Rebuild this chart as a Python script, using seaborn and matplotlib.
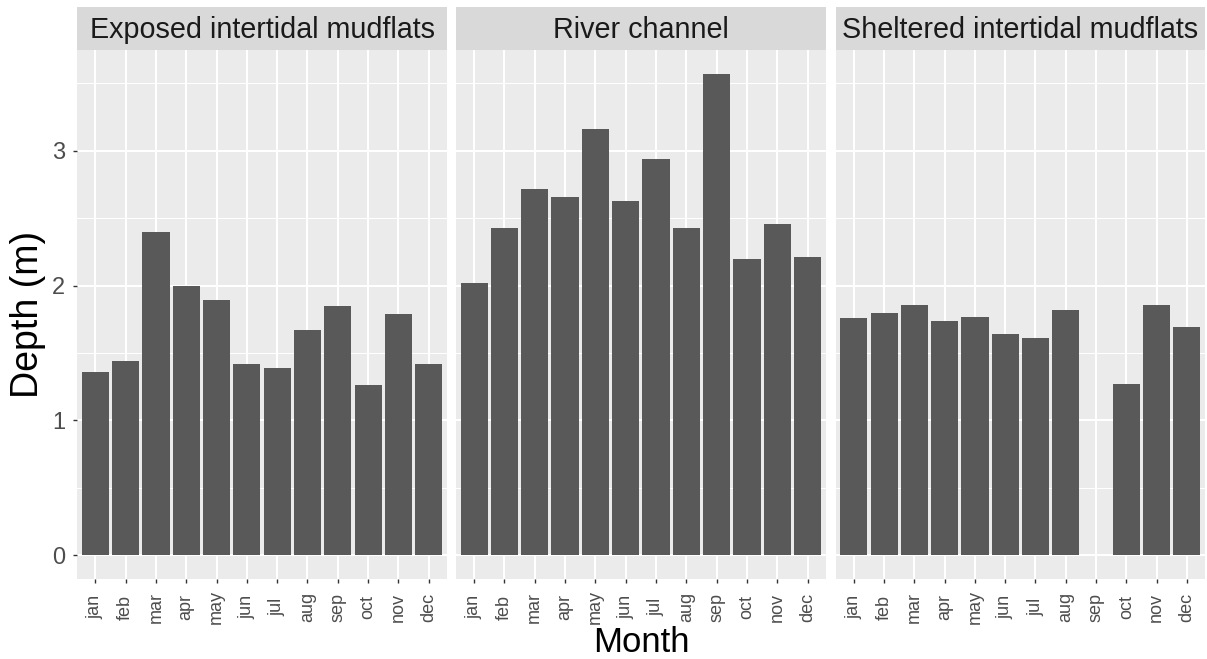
import numpy as np
import pandas as pd
import matplotlib
matplotlib.use("Agg")
import matplotlib.pyplot as plt
import seaborn as sns
from matplotlib.ticker import MultipleLocator

months = ["jan", "feb", "mar", "apr", "may", "jun", "jul", "aug", "sep", "oct", "nov", "dec"]
sites = ["Exposed intertidal mudflats", "River channel", "Sheltered intertidal mudflats"]
exposed = [1.36, 1.44, 2.40, 2.00, 1.89, 1.42, 1.39, 1.67, 1.85, 1.26, 1.79, 1.42]
river = [2.02, 2.43, 2.72, 2.66, 3.16, 2.63, 2.94, 2.43, 3.57, 2.20, 2.46, 2.21]
sheltered = [1.76, 1.80, 1.86, 1.74, 1.77, 1.64, 1.61, 1.82, np.nan, 1.27, 1.86, 1.69]

df = pd.DataFrame({
    "Month": months * 3,
    "Depth": exposed + river + sheltered,
    "Site": np.repeat(sites, len(months)),
})

plt.rcParams["font.family"] = ["Liberation Sans", "DejaVu Sans"]

W, H = 1207, 659
fig = plt.figure(figsize=(W / 100, H / 100), dpi=100)

panel_px = [(77, 447), (456, 825.7), (835.7, 1205)]
top_px, bottom_px = 50, 579.3
strip_top = 7.3

for i, (site, (x0, x1)) in enumerate(zip(sites, panel_px)):
    ax = fig.add_axes([x0 / W, (H - bottom_px) / H, (x1 - x0) / W, (bottom_px - top_px) / H])
    sub = df[df["Site"] == site]
    sns.barplot(data=sub, x="Month", y="Depth", order=months, color="#595959",
                saturation=1, width=0.9, errorbar=None, linewidth=0, ax=ax)
    ax.set_facecolor("#EBEBEB")
    ax.set_xlim(-0.6, 11.6)
    ax.set_ylim(-0.1785, 3.7485)
    ax.yaxis.set_major_locator(MultipleLocator(1))
    ax.yaxis.set_minor_locator(MultipleLocator(0.5))
    ax.set_axisbelow(True)
    ax.grid(which="major", color="white", linewidth=1.45)
    ax.grid(which="minor", axis="y", color="white", linewidth=0.75)
    for s in ax.spines.values():
        s.set_visible(False)
    ax.set_xlabel("")
    ax.set_ylabel("")
    ax.tick_params(axis="x", length=2.9, width=1.0, color="#333333", labelsize=13,
                   labelcolor="#4D4D4D", pad=17.3)
    for lbl in ax.get_xticklabels():
        lbl.set_rotation(90)
        lbl.set_va("center")
        lbl.set_ha("center")
    ax.tick_params(axis="y", which="minor", length=0)
    if i == 0:
        ax.tick_params(axis="y", which="major", length=2.9, width=1.0, color="#333333",
                       labelsize=17, labelcolor="#4D4D4D", pad=5.5)
    else:
        ax.tick_params(axis="y", which="major", length=0, labelleft=False)

    sax = fig.add_axes([x0 / W, (H - top_px) / H, (x1 - x0) / W, (top_px - strip_top) / H])
    sax.set_facecolor("#D9D9D9")
    sax.set_xticks([])
    sax.set_yticks([])
    for s in sax.spines.values():
        s.set_visible(False)
    sax.text(0.5, 0.47, site, ha="center", va="center", fontsize=20.7, color="#1A1A1A",
             transform=sax.transAxes)

fig.text(28 / W, 1 - 314 / H, "Depth (m)", rotation=90, ha="center", va="center",
         fontsize=27, color="black")
fig.text(641 / W, 7 / H, "Month", ha="center", va="baseline", fontsize=25, color="black")

fig.savefig("out.png", dpi=100, facecolor="white")
